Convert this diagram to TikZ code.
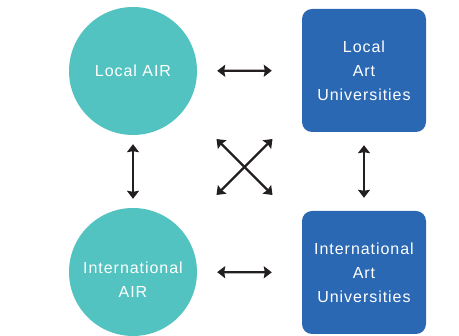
\documentclass[tikz,border=0pt]{standalone}
\usepackage{fontspec}
\setmainfont{Liberation Sans}[LetterSpace=6]
\usetikzlibrary{arrows.meta}

\definecolor{airteal}{HTML}{52C3C0}
\definecolor{artblue}{HTML}{2B68B3}
\definecolor{arrowink}{HTML}{231F20}

\begin{document}
\begin{tikzpicture}[x=1pt,y=-1pt,
    airnode/.style={circle,fill=airteal,minimum size=128pt,inner sep=0pt,
      text=white,align=center,font=\fontsize{16}{24}\selectfont},
    artnode/.style={rectangle,rounded corners=10pt,fill=artblue,
      minimum width=124pt,minimum height=123pt,inner sep=0pt,
      text=white,align=center,font=\fontsize{16}{24}\selectfont},
    link/.style={arrowink,line width=2.2pt,
      {Stealth[length=8pt,width=12pt,inset=1pt]}-{Stealth[length=8pt,width=12pt,inset=1pt]}}]

  \useasboundingbox (0,0) rectangle (459,336);

  % Nodes
  \node[airnode] (lair) at (133,71) {Local AIR};
  \node[airnode,text height=51pt] (iair) at (133,272) {International\\AIR};
  \node[artnode] (lart) at (364,70.5) {Local\\Art\\Universities};
  \node[artnode] (iart) at (364,272.5) {International\\Art\\Universities};

  % Links
  \draw[link,shorten <=20pt,shorten >=30pt] (lair) -- (lart);
  \draw[link,shorten <=20pt,shorten >=30pt] (iair) -- (iart);
  \draw[link,shorten <=9pt,shorten >=9pt] (lair) -- (iair);
  \draw[link,shorten <=13pt,shorten >=13pt] (lart) -- (iart);

  % Cross in the middle
  \def\cx{244.5}\def\cy{167}\def\d{28}
  \coordinate (nw) at (\cx-\d,\cy-\d);
  \coordinate (ne) at (\cx+\d,\cy-\d);
  \coordinate (sw) at (\cx-\d,\cy+\d);
  \coordinate (se) at (\cx+\d,\cy+\d);
  \draw[link] (nw) -- (se);
  \draw[link] (ne) -- (sw);

\end{tikzpicture}
\end{document}
